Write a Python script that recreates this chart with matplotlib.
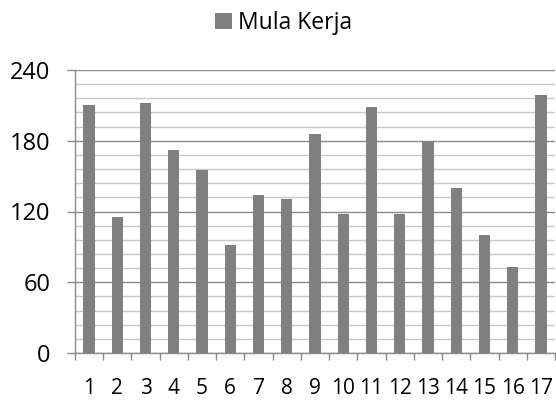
import matplotlib
matplotlib.use("Agg")
import matplotlib.pyplot as plt
from matplotlib.patches import Patch
from matplotlib.ticker import MultipleLocator, FixedLocator

categories = [str(i) for i in range(1, 18)]
values = [210, 115, 212, 172, 155, 92, 134, 131, 186, 118, 209, 118, 180, 140, 100, 73, 219]
series_name = "Mula Kerja"

plt.rcParams['font.family'] = ['Open Sans', 'DejaVu Sans']

fig = plt.figure(figsize=(5.56, 4.01), dpi=100)
ax = fig.add_axes([75/556, 1-353/401, (555-75)/556, (353-70)/401])

x = list(range(1, len(categories)+1))
ax.bar(x, values, width=0.4, color='#808080', zorder=3)

ax.set_xlim(0.5, len(categories)+0.5)
ax.set_ylim(0, 240)

ax.yaxis.set_major_locator(MultipleLocator(60))
ax.yaxis.set_minor_locator(MultipleLocator(12))
ax.grid(which='major', axis='y', color='#8a8a8a', linewidth=1.0, zorder=1)
ax.grid(which='minor', axis='y', color='#c8c8c8', linewidth=1.0, zorder=0)

ax.set_xticks(x)
ax.set_xticklabels(categories)
ax.xaxis.set_minor_locator(FixedLocator([i + 0.5 for i in range(0, len(categories)+1)]))

ax.tick_params(axis='x', which='major', length=0, pad=18, labelsize=15, colors='black')
ax.tick_params(axis='x', which='minor', length=5, width=1, color='#8a8a8a', direction='out')
ax.tick_params(axis='y', which='major', length=5.8, width=1, color='#8a8a8a', pad=12, labelsize=17)
ax.tick_params(axis='y', which='minor', length=0)

for s in ['top', 'right']:
    ax.spines[s].set_visible(False)
for s in ['left', 'bottom']:
    ax.spines[s].set_color('#8a8a8a')
    ax.spines[s].set_linewidth(1.0)

fig.legend(handles=[Patch(facecolor='#808080', edgecolor='none', label=series_name)],
           loc='center', bbox_to_anchor=(284/556, 1-23/401), frameon=False,
           fontsize=16.5, handlelength=0.7, handleheight=0.7, handletextpad=0.3)

fig.savefig('out.png', dpi=100)
